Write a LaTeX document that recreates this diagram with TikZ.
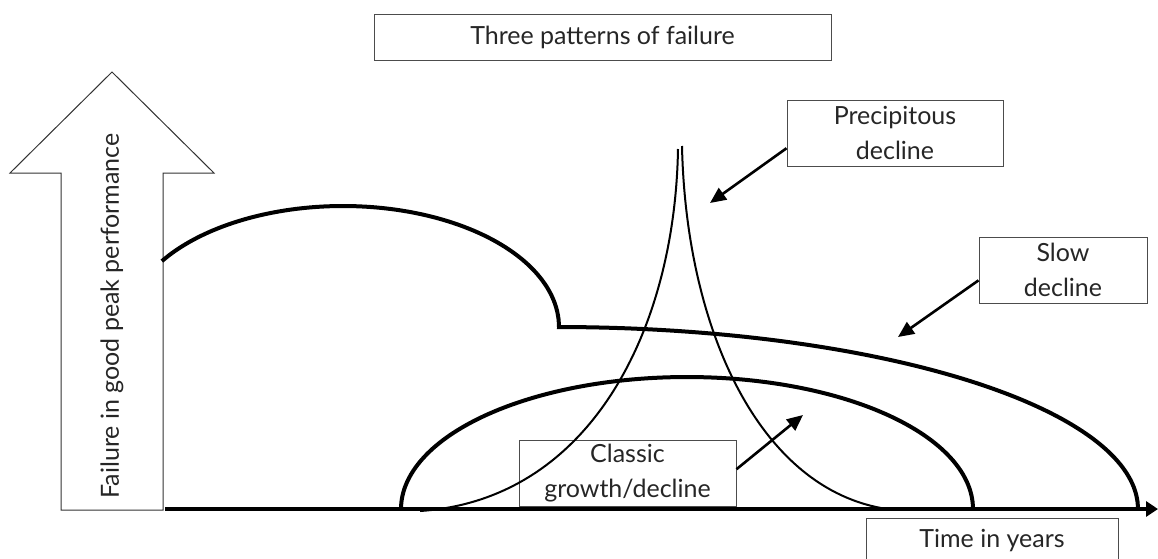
\documentclass[tikz,border=0pt]{standalone}
\usepackage{fontspec}
\setmainfont{Lato}
\usetikzlibrary{arrows.meta}

\begin{document}
\begin{tikzpicture}[x=0.5pt,y=-0.5pt,
  every node/.style={draw=black!70,line width=0.5pt,text=black!85,align=center,inner sep=0pt,font=\fontsize{12.5}{17.5}\selectfont},
  curve/.style={line width=2pt},
  thincurve/.style={line width=1pt},
  callout/.style={line width=1.3pt,-{Triangle[length=8pt,width=7pt]}}]
  \useasboundingbox (0,0) rectangle (1158,558);
  \node[minimum width=228.5pt,minimum height=23pt] (title) at (602.5,37) {Three patterns of failure};
  \node[minimum width=108pt,minimum height=33pt] (precip) at (895,133) {Precipitous\\decline};
  \node[minimum width=84pt,minimum height=33pt] (slow) at (1063,270) {Slow\\decline};
  \node[minimum width=108.5pt,minimum height=33pt] (classic) at (627.5,473) {Classic\\growth/decline};
  \node[minimum width=126pt,minimum height=23pt] (time) at (992,541) {Time in years};

  \draw[black!80,line width=0.5pt] (61,510)--(61,173)--(10,173)--(112,72)--(214,173)--(163,173)--(163,510)--cycle;
  \node[draw=none,rotate=90] (ylabel) at (112,316) {Failure in good peak performance};

  \coordinate (origin) at (165,509);
  \coordinate (tEnd) at (1158,509);
  \draw[line width=1.6pt,-{Triangle[length=6pt,width=7.5pt]}] (origin)--(tEnd);

  \draw[curve] plot[smooth,domain=0:147,samples=40] ({343+216*cos(\x)},{327-121*sin(\x)});
  \draw[curve] plot[smooth,domain=0:90,samples=40] ({557+581*cos(\x)},{509-182*sin(\x)});
  \draw[curve] plot[smooth,domain=0:180,samples=60] ({687+286*cos(\x)},{509-132*sin(\x)});
  \draw[thincurve] (420,511) .. controls (590,500) and (675,330) .. (678,149);
  \draw[thincurve] (682,146) .. controls (686,330) and (760,490) .. (887,509);

  \coordinate (precipTip) at (710,203);
  \coordinate (slowTip) at (898,337);
  \coordinate (classicTip) at (803,415);
  \draw[callout] (precip.188)--(precipTip);
  \draw[callout] (slow.187)--(slowTip);
  \draw[callout] (classic.2)--(classicTip);
\end{tikzpicture}
\end{document}
